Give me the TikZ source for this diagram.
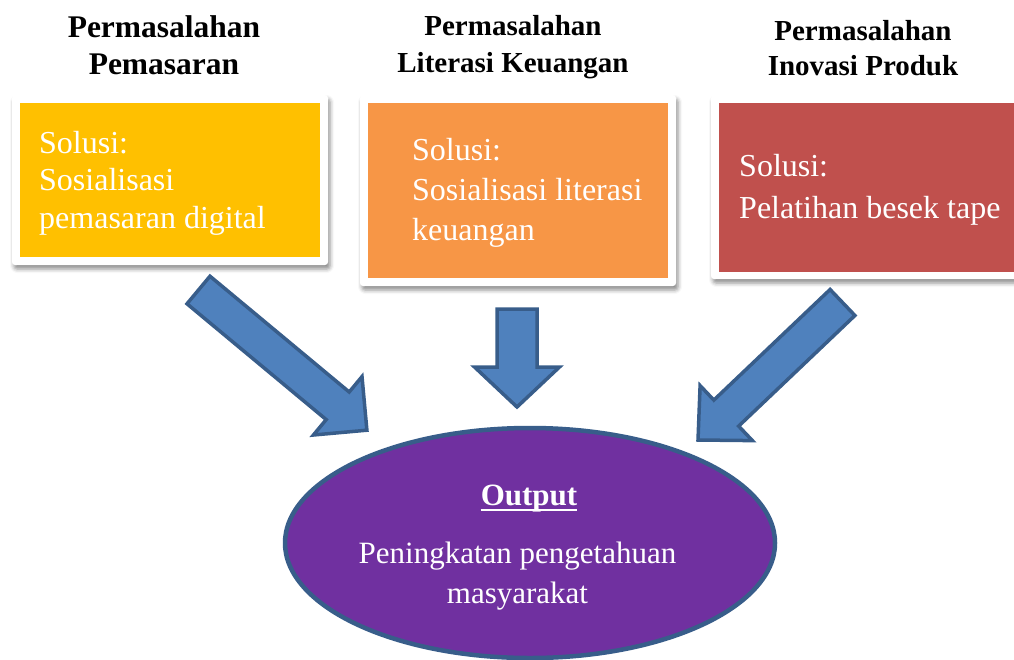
\documentclass[tikz,border=0pt]{standalone}
\usepackage{fontspec}
\setmainfont{Liberation Serif}
\usetikzlibrary{shapes.geometric,shadows.blur}

\definecolor{panelYellow}{HTML}{FFC000}
\definecolor{panelOrange}{HTML}{F79646}
\definecolor{panelRed}{HTML}{C0504D}
\definecolor{outPurple}{HTML}{7030A0}
\definecolor{arrowFill}{HTML}{4F81BD}
\definecolor{arrowLine}{HTML}{385D8A}

\tikzset{
  frame/.style={rectangle, rounded corners=3pt, fill=white, draw=none, inner sep=0pt,
    blur shadow={shadow xshift=2pt, shadow yshift=-4pt, shadow blur radius=4pt, shadow opacity=45}},
  panel/.style={rectangle, draw=none, inner sep=0pt},
  % multi-line nodes: the base anchor sits on the last line's baseline
  soltext/.style={text=white, align=left, inner sep=0pt, anchor=base west},
  heading/.style={text=black, align=center, inner sep=0pt, anchor=base, font=\bfseries},
  blockarrow/.style={fill=arrowFill, draw=arrowLine, line width=3.5pt, line join=miter},
}

\begin{document}
\begin{tikzpicture}[x=1pt,y=-1pt]
  \useasboundingbox (0,0) rectangle (1014,659);
  \clip (0,0) rectangle (1014,659);

  % headings
  \node[heading, font=\bfseries\fontsize{31.5}{37}\selectfont] (h1) at (164,74) {Permasalahan\\Pemasaran};
  \node[heading, font=\bfseries\fontsize{29}{37}\selectfont] (h2) at (513,72) {Permasalahan\\Literasi Keuangan};
  \node[heading, font=\bfseries\fontsize{29}{35}\selectfont] (h3) at (863,75) {Permasalahan\\Inovasi Produk};

  % solution panels
  \node[frame, minimum width=316pt, minimum height=170pt] (fr1) at (170,180) {};
  \node[panel, fill=panelYellow, minimum width=300pt, minimum height=154pt] (p1) at (170,180) {};
  \node[soltext, font=\fontsize{32}{37.5}\selectfont] (s1) at (39,228.3) {Solusi:\\Sosialisasi\\pemasaran digital};

  \node[frame, minimum width=316pt, minimum height=191pt] (fr2) at (518,190.5) {};
  \node[panel, fill=panelOrange, minimum width=300pt, minimum height=175pt] (p2) at (518,190.5) {};
  \node[soltext, font=\fontsize{32}{40}\selectfont] (s2) at (412,240) {Solusi:\\Sosialisasi literasi\\keuangan};

  \node[frame, minimum width=316pt, minimum height=184pt] (fr3) at (869,187) {};
  \node[panel, fill=panelRed, minimum width=300pt, minimum height=169pt] (p3) at (869,187.5) {};
  \node[soltext, font=\fontsize{32}{41.5}\selectfont] (s3) at (739,218.3) {Solusi:\\Pelatihan besek tape};

  % output ellipse
  \node[ellipse, fill=outPurple, draw=arrowLine, line width=4.5pt, inner sep=0pt,
        minimum width=490pt, minimum height=230pt] (out) at (530,543) {};
  \node[text=white, inner sep=0pt, anchor=base, font=\bfseries\fontsize{31}{36}\selectfont] (outTitle) at (529,505) {Output};
  \draw[white, line width=2.5pt] ([yshift=-5pt]outTitle.base west) -- ([yshift=-5pt]outTitle.base east);
  \node[text=white, align=center, inner sep=0pt, anchor=base, font=\fontsize{31}{40}\selectfont] (outText) at (517.5,603) {Peningkatan pengetahuan\\masyarakat};

  % block arrows
  \draw[blockarrow] (187.0,303.8) -- (326.2,419.6) -- (313.4,435.0) -- (366.9,430.2)
      -- (362.0,376.6) -- (349.2,392.0) -- (210.0,276.2) -- cycle;
  \draw[blockarrow] (497,309) -- (537,309) -- (537,367) -- (559.5,367) -- (517,407)
      -- (474.5,367) -- (497,367) -- cycle;
  \draw[blockarrow] (854.9,315.5) -- (738.65,426.1) -- (752.4,440.6) -- (698,440)
      -- (700.1,385.6) -- (713.85,400.1) -- (830.1,289.5) -- cycle;
\end{tikzpicture}
\end{document}
